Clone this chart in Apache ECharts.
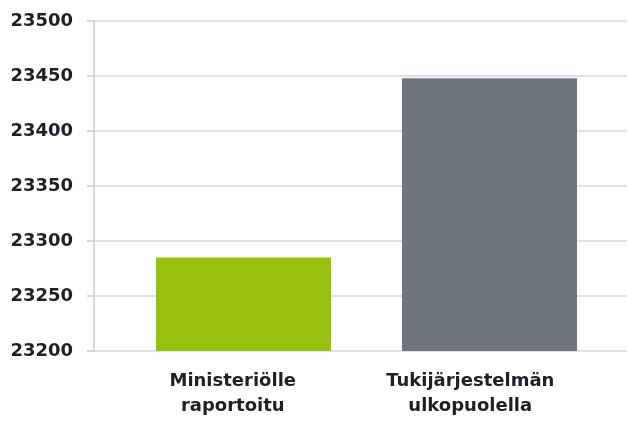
<!DOCTYPE html>
<html>
<head>
<meta charset="utf-8">
<script src="https://cdn.jsdelivr.net/npm/echarts@6/dist/echarts.min.js"></script>
<style>
  html, body { margin: 0; padding: 0; background: #fff; }
  #chart { width: 627px; height: 421px; }
</style>
</head>
<body>
<div id="chart"></div>
<script>
// categories and values
var categories = ['Ministeriölle\nraportoitu', 'Tukijärjestelmän\nulkopuolella'];
var values = [23285, 23448];
var barColors = ['#97c00f', '#6e757d'];
var yMin = 23200, yMax = 23500, yStep = 50;

var chart = echarts.init(document.getElementById('chart'), null, { renderer: 'canvas' });

var fontFamily = '"DejaVu Sans", sans-serif';

var option = {
  animation: false,
  backgroundColor: '#fff',
  grid: [
    // gridlines + y axis
    { left: 94, right: 0, top: 21, bottom: 70 },
    // bars
    { left: 120.5, right: 14.5, top: 21, bottom: 70 },
    // category labels
    { left: 114, right: 38, top: 21, bottom: 70 }
  ],
  xAxis: [
    { gridIndex: 0, type: 'category', data: categories, show: false },
    { gridIndex: 1, type: 'category', data: categories, show: false },
    {
      gridIndex: 2, type: 'category', data: categories,
      axisLine: { show: false }, axisTick: { show: false },
      axisLabel: {
        color: '#1f1f24', fontFamily: fontFamily, fontWeight: 'bold',
        fontSize: 18, lineHeight: 25, margin: 18, interval: 0
      }
    }
  ],
  yAxis: [
    {
      gridIndex: 0, type: 'value', min: yMin, max: yMax, interval: yStep,
      axisLine: { show: true, lineStyle: { color: '#cccccc', width: 1.5 } },
      axisTick: { show: true, length: 7, lineStyle: { color: '#cccccc', width: 1.5 } },
      splitLine: { show: true, lineStyle: { color: '#d9d9d9', width: 1.5 } },
      axisLabel: {
        color: '#1f1f24', fontFamily: fontFamily, fontWeight: 'bold',
        fontSize: 18, margin: 21,
        formatter: function (v) { return String(v); }
      }
    },
    { gridIndex: 1, type: 'value', min: yMin, max: yMax, interval: yStep, show: false, splitLine: { show: false } },
    { gridIndex: 2, type: 'value', min: yMin, max: yMax, show: false, splitLine: { show: false } }
  ],
  series: [{
    type: 'bar',
    xAxisIndex: 1,
    yAxisIndex: 1,
    barWidth: 175,
    data: values.map(function (v, i) {
      return { value: v, itemStyle: { color: barColors[i] } };
    })
  }]
};

chart.setOption(option);
</script>
</body>
</html>
